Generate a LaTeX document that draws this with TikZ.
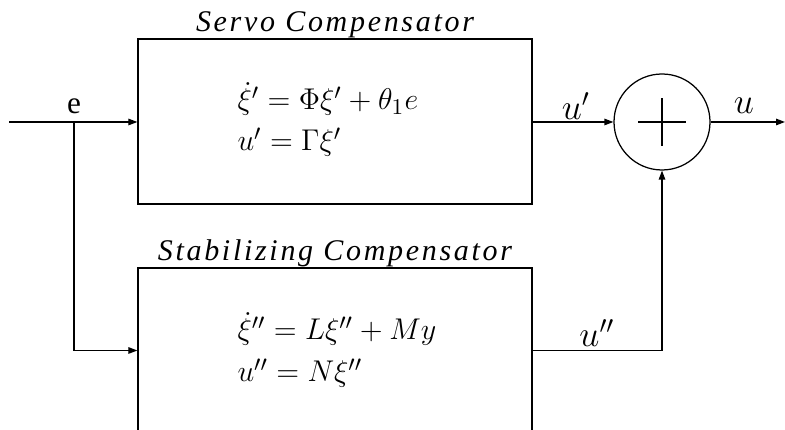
\documentclass[tikz,border=0pt]{standalone}
\usepackage{fontspec}
\setmainfont{Liberation Serif}
\usetikzlibrary{arrows.meta,positioning}

\begin{document}
\begin{tikzpicture}[
    x=0.4pt, y=-0.4pt,
    conductor/.style  = {line width=0.5pt},
    sig/.style        = {conductor, -{Triangle[length=3.6pt, width=2.6pt]}},
    block/.style      = {rectangle, draw, line width=0.5pt,
                         minimum width=157.6pt, minimum height=66pt},
    sumnode/.style    = {circle, draw, line width=0.5pt,
                         minimum size=38.4pt, inner sep=0pt},
    title/.style      = {anchor=base, inner sep=0pt,
                         font=\fontsize{12}{14}\selectfont\itshape
                         \addfontfeatures{LetterSpace=9}},
    eqn/.style        = {font=\fontsize{13}{15}\selectfont,
                         anchor=base west, inner sep=0pt},
    sigl/.style       = {font=\fontsize{14.5}{16}\selectfont, inner sep=1pt},
    inl/.style        = {font=\fontsize{12.5}{14}\selectfont, inner sep=1pt},
]

% picture frame (bottom block is cut off)
\clip (0,0) rectangle (785,430);

% ============================================================
%  BLOCKS
% ============================================================
\node[block] (servo) at (335, 121.5) {};
\node[title] (servot) at (335, 32) {Servo Compensator};
\node[eqn] (servoeqa) at (237, 110) {$\dot{\xi}' = \Phi\xi' + \theta_1 e$};
\node[eqn] (servoeqb) at (237, 151) {$u' = \Gamma\xi'$};

\node[block] (stab) at (335, 350.5) {};
\node[title] (stabt) at (335, 261) {Stabilizing Compensator};
\node[eqn] (stabeqa) at (237, 340) {$\dot{\xi}'' = L\xi'' + My$};
\node[eqn] (stabeqb) at (237, 382) {$u'' = N\xi''$};

% summing junction
\node[sumnode] (sum) at (662, 122) {};
\draw[conductor] ([xshift=-9.6pt]sum.center) -- ([xshift=9.6pt]sum.center);
\draw[conductor] ([yshift=-9.6pt]sum.center) -- ([yshift=9.6pt]sum.center);

% ============================================================
%  SIGNALS
% ============================================================
\coordinate (in)    at (9, 122);
\coordinate (split) at (74, 122);
\coordinate (out)   at (785, 122);

\draw[sig] (in) -- (servo.west |- in);
\draw[sig] (split) |- (stab.west);
\node[inl, above=2pt of split] (e) {e};

\draw[sig] (servo.east |- sum) -- (sum.west);
\node[sigl] (up) at (576, 106) {$u'$};

\draw[sig] (stab.east) -| (sum.south);
\node[sigl] (upp) at (597, 333) {$u''$};

\draw[sig] (sum.east) -- (out);
\node[sigl] (u) at (744, 106) {$u$};

\end{tikzpicture}
\end{document}
